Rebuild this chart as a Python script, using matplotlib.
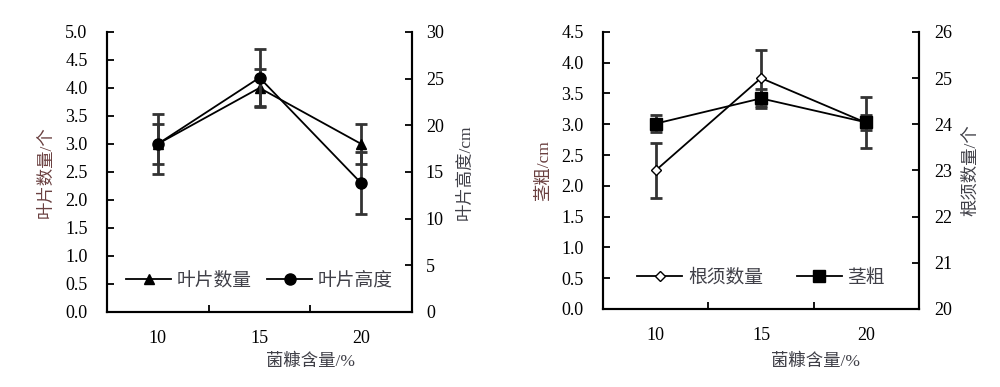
import matplotlib
matplotlib.use("Agg")
import matplotlib.pyplot as plt
from matplotlib.ticker import MultipleLocator, FixedLocator, FormatStrFormatter

plt.rcParams['font.family'] = ['Liberation Serif', 'Noto Sans CJK SC']

# 菌糠含量/%
x_vals = [10, 15, 20]
x_labels = ['10', '15', '20']

# 左图: 叶片数量 (左轴), 叶片高度 (右轴)
leaf_num = [3.0, 4.0, 3.0]
leaf_num_err = [0.35, 0.33, 0.35]
leaf_height = [18.0, 25.1, 13.8]
leaf_height_err = [3.2, 3.1, 3.3]

# 右图: 茎粗 (左轴), 根须数量 (右轴)
stem = [3.01, 3.42, 3.03]
stem_err = [0.14, 0.15, 0.12]
root_num = [23.0, 25.0, 24.03]
root_num_err = [0.6, 0.6, 0.55]

TXT = '#404048'
LBL = '#6a4040'
ERR = '#333333'
TICK_FS = 13
LABEL_FS = 12.5

fig = plt.figure(figsize=(10, 3.87), dpi=100)


def style_axes(ax, ax2, lpad, rpad):
    ax.set_xlim(7.5, 22.5)
    ax.xaxis.set_major_locator(FixedLocator(x_vals))
    ax.set_xticklabels(x_labels)
    ax.xaxis.set_minor_locator(FixedLocator([12.5, 17.5]))
    ax.tick_params(axis='x', which='major', length=0, pad=13, labelsize=TICK_FS)
    ax.tick_params(axis='x', which='minor', direction='in', length=5, width=1.3)
    ax.tick_params(axis='y', direction='in', length=5, width=1.3, pad=lpad, labelsize=TICK_FS)
    ax2.tick_params(axis='y', direction='in', length=5, width=1.3, pad=rpad, labelsize=TICK_FS)
    for a in (ax, ax2):
        a.spines['top'].set_visible(False)
        for s in ('left', 'right', 'bottom'):
            a.spines[s].set_linewidth(1.5)


def draw(ax, y, err, **kw):
    ax.errorbar(x_vals, y, yerr=err, fmt='none', ecolor=ERR, elinewidth=2,
                capsize=4.5, capthick=2, zorder=2)
    line, = ax.plot(x_vals, y, color='black', lw=1.3, zorder=3, **kw)
    return line


# ---- 左图 ----
ax1 = fig.add_axes([0.107, 0.194, 0.305, 0.7235])
ax1b = ax1.twinx()
l1 = draw(ax1, leaf_num, leaf_num_err, marker='^', markersize=7, mfc='black', mec='black')
l2 = draw(ax1b, leaf_height, leaf_height_err, marker='o', markersize=8, mfc='black', mec='black')
ax1.set_ylim(0, 5.0)
ax1.yaxis.set_major_locator(MultipleLocator(0.5))
ax1.yaxis.set_major_formatter(FormatStrFormatter('%.1f'))
ax1b.set_ylim(0, 30)
ax1b.yaxis.set_major_locator(MultipleLocator(5))
style_axes(ax1, ax1b, 14, 10)
ax1.set_xlabel('菌糠含量/%', fontsize=LABEL_FS, color=TXT)
ax1.xaxis.set_label_coords(0.666, -0.15)
ax1.set_ylabel('叶片数量/个', fontsize=LABEL_FS, color=LBL)
ax1.yaxis.set_label_coords(-0.17, 0.5)
ax1b.set_ylabel('叶片高度/cm', fontsize=LABEL_FS, color=TXT)
ax1b.yaxis.set_label_coords(1.15, 0.5)
leg = ax1b.legend([l1, l2], ['叶片数量', '叶片高度'], loc='lower center',
                  bbox_to_anchor=(0.5, 0.02), ncol=2, frameon=False, fontsize=13.5,
                  handlelength=2.4, columnspacing=0.8, handletextpad=0.3)
for t in leg.get_texts():
    t.set_color(TXT)

# ---- 右图 ----
ax2 = fig.add_axes([0.603, 0.2016, 0.316, 0.716])
ax2b = ax2.twinx()
l3 = draw(ax2b, root_num, root_num_err, marker='D', markersize=5.5, mfc='white', mec='black', mew=1.0)
l4 = draw(ax2, stem, stem_err, marker='s', markersize=8.5, mfc='black', mec='black')
ax2b.set_zorder(ax2.get_zorder() - 1)
ax2.patch.set_visible(False)
ax2.set_ylim(0, 4.5)
ax2.yaxis.set_major_locator(MultipleLocator(0.5))
ax2.yaxis.set_major_formatter(FormatStrFormatter('%.1f'))
ax2b.set_ylim(20, 26)
ax2b.yaxis.set_major_locator(MultipleLocator(1))
style_axes(ax2, ax2b, 14, 11)
ax2.set_xlabel('菌糠含量/%', fontsize=LABEL_FS, color=TXT)
ax2.xaxis.set_label_coords(0.674, -0.16)
ax2.set_ylabel('茎粗/cm', fontsize=LABEL_FS, color=LBL)
ax2.yaxis.set_label_coords(-0.16, 0.5)
ax2b.set_ylabel('根须数量/个', fontsize=LABEL_FS, color=TXT)
ax2b.yaxis.set_label_coords(1.14, 0.5)
leg2 = ax2.legend([l3, l4], ['根须数量', '茎粗'], loc='lower center',
                  bbox_to_anchor=(0.5, 0.02), ncol=2, frameon=False, fontsize=13.5,
                  handlelength=2.4, columnspacing=1.8, handletextpad=0.3)
for t in leg2.get_texts():
    t.set_color(TXT)

fig.savefig('out.png', dpi=100)
